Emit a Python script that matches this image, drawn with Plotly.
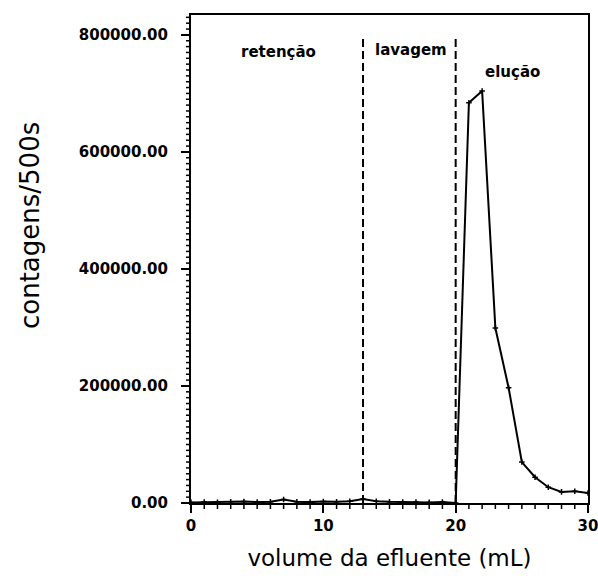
import plotly.graph_objects as go

# Effluent volume (mL) and counts per 500 s
volume = list(range(0, 31))
counts = [
    1000, 1500, 1000, 2000, 2500, 1500, 2000, 6000, 2000, 1500,
    2500, 2000, 3000, 7000, 3000, 2000, 1500, 1500, 1000, 1500,
    0, 684000, 704000, 299000, 197000, 70000, 44000, 27000, 19000, 20000, 17000,
]

# Stage boundaries (mL) and stage labels
boundaries = [13, 20]
boundary_top = 800000
stage_labels = ["retenção", "lavagem", "elução"]
stage_x = [6.6, 16.6, 24.3]
stage_y = [771000, 774000, 737000]

X_RANGE = [0, 30]
Y_RANGE = [0, 834000]
x_major = [0, 10, 20, 30]
y_major = [0, 200000, 400000, 600000, 800000]
y_ticktext = [f"{v:.2f}" for v in y_major]
x_minor = [v for v in range(0, 31, 1) if v not in x_major]
y_minor = [v for v in range(0, 834001, 10000) if v not in y_major]

FONT = "DejaVu Sans"

fig = go.Figure()

for b in boundaries:
    fig.add_trace(go.Scatter(
        x=[b, b], y=[0, boundary_top], mode="lines",
        line=dict(color="black", width=2, dash="8px,4px"),
        hoverinfo="skip", showlegend=False,
    ))

fig.add_trace(go.Scatter(
    x=volume, y=counts, mode="lines+markers",
    line=dict(color="black", width=2),
    marker=dict(symbol="cross-thin", size=4, line=dict(color="black", width=1.5)),
    showlegend=False,
))

# minor tick marks: short pixel-length strokes hanging off the axes;
# one reference is paper-based so the strokes may extend into the margin
for v in x_minor:
    fig.add_shape(type="line", xref="x", yref="paper", x0=v, x1=v,
                  ysizemode="pixel", yanchor=0, y0=0, y1=-6,
                  line=dict(color="black", width=1.5), layer="above")
for v in y_minor:
    fig.add_shape(type="line", xref="paper", yref="y", y0=v, y1=v,
                  xsizemode="pixel", xanchor=0, x0=0, x1=-5,
                  line=dict(color="black", width=1.5), layer="above")

for txt, xx, yy in zip(stage_labels, stage_x, stage_y):
    fig.add_annotation(
        x=xx, y=yy, text=txt, showarrow=False,
        font=dict(family=FONT, size=15, color="black", weight="bold"),
    )

# y-axis title, placed a little above the plot's mid-height
fig.add_annotation(
    x=-0.405, y=0.568, xref="paper", yref="paper", text="contagens/500s",
    textangle=-90, showarrow=False, xanchor="center", yanchor="middle",
    font=dict(family=FONT, size=26, color="black"),
)

fig.update_layout(
    width=598, height=583,
    margin=dict(l=191, r=10, t=15, b=80, autoexpand=False),
    paper_bgcolor="white", plot_bgcolor="white",
    font=dict(family=FONT, color="black"),
    xaxis=dict(
        range=X_RANGE, tickmode="array", tickvals=x_major,
        ticks="outside", ticklen=8, tickwidth=2, tickcolor="black",
        showline=True, linecolor="black", linewidth=2, mirror=True,
        showgrid=False, zeroline=False, automargin=False, ticklabeloverflow="allow",
        tickfont=dict(family=FONT, size=15, weight="bold"),
        title=dict(text="volume da efluente (mL)", font=dict(family=FONT, size=23), standoff=16),
    ),
    yaxis=dict(
        range=Y_RANGE, tickmode="array", tickvals=y_major, ticktext=y_ticktext,
        ticks="outside", ticklen=8, tickwidth=2, tickcolor="black",
        showline=True, linecolor="black", linewidth=2, mirror=True,
        showgrid=False, zeroline=False, automargin=False, ticklabeloverflow="allow",
        tickfont=dict(family=FONT, size=15, weight="bold"),
        ticklabelstandoff=10,
    ),
)

fig.write_html("out.html")
